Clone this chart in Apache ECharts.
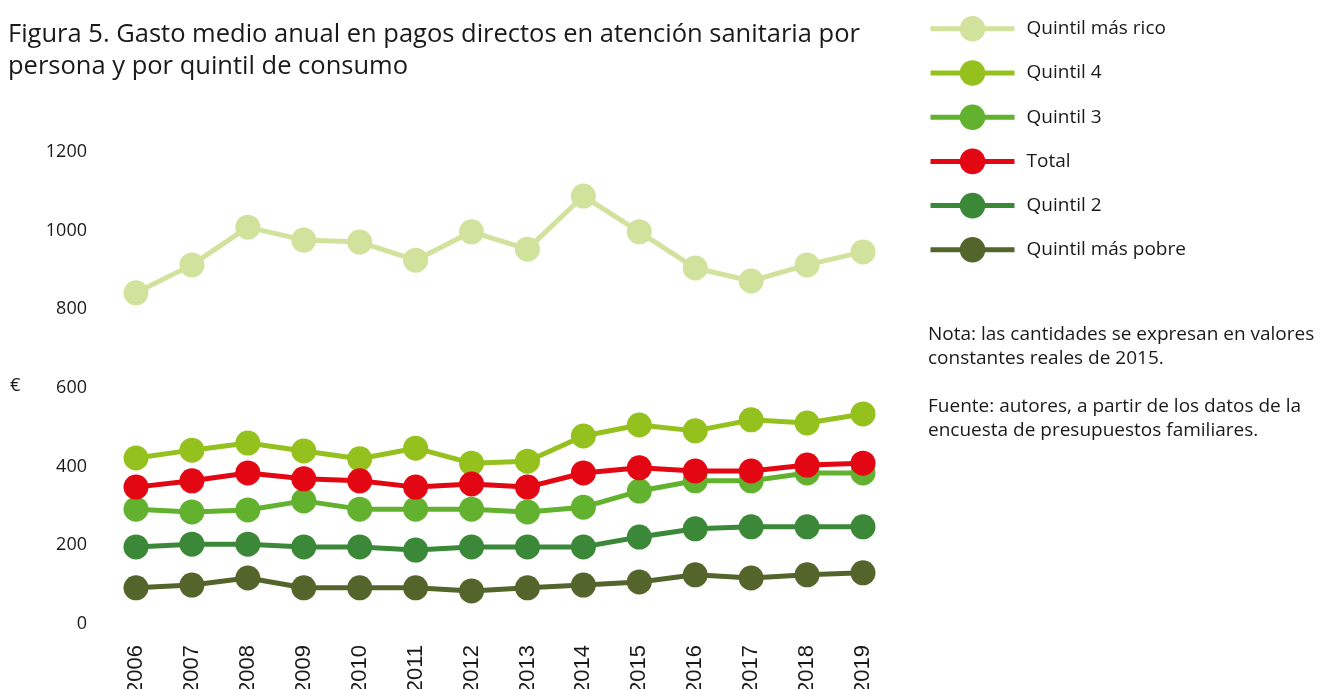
<!DOCTYPE html>
<html>
<head>
<meta charset="utf-8">
<script src="https://cdn.jsdelivr.net/npm/echarts@6/dist/echarts.min.js"></script>
<style>
  html, body { margin: 0; padding: 0; background: #fff; }
  #chart { width: 1322px; height: 689px; }
</style>
</head>
<body>
<div id="chart"></div>
<script>
const years = ['2006', '2007', '2008', '2009', '2010', '2011', '2012', '2013', '2014', '2015', '2016', '2017', '2018', '2019']
const yTicks = [0, 200, 400, 600, 800, 1000, 1200]

const rico = [842, 913, 1009, 976, 971, 925, 997, 953, 1088, 997, 905, 872, 913, 946]
const quintil4 = [422, 442, 460, 440, 420, 447, 409, 414, 478, 506, 491, 519, 511, 534]
const quintil3 = [292, 285, 290, 313, 292, 292, 292, 285, 297, 338, 364, 364, 384, 384]
const total = [348, 364, 384, 369, 364, 348, 356, 348, 384, 397, 389, 389, 404, 409]
const quintil2 = [196, 203, 203, 196, 196, 188, 196, 196, 196, 221, 242, 247, 247, 247]
const pobre = [92, 99, 117, 92, 92, 92, 84, 92, 99, 107, 125, 117, 125, 130]

const legendNames = ['Quintil más rico', 'Quintil 4', 'Quintil 3', 'Total', 'Quintil 2', 'Quintil más pobre']

const chart = echarts.init(document.getElementById('chart'))

const makeLine = (name, data, color) => ({
  name: name,
  type: 'line',
  data: data,
  symbol: 'circle',
  symbolSize: 25,
  showSymbol: true,
  color: color,
  itemStyle: { color: color },
  lineStyle: { color: color, width: 5 },
  emphasis: { disabled: true }
})

const option = {
  animation: false,
  textStyle: { fontFamily: 'Open Sans' },
  title: {
    text: 'Figura 5. Gasto medio anual en pagos directos en atención sanitaria por\npersona y por quintil de consumo',
    left: 3,
    top: 14,
    textStyle: {
      fontFamily: 'Open Sans',
      fontSize: 25.5,
      fontWeight: 'normal',
      color: '#1a1a1a',
      lineHeight: 32
    }
  },
  legend: {
    orient: 'vertical',
    left: 923,
    top: 11,
    itemWidth: 84,
    itemHeight: 32,
    itemGap: 18.6,
    data: legendNames,
    lineStyle: { width: 5 },
    textStyle: { fontFamily: 'Open Sans', fontSize: 19, color: '#1a1a1a', padding: [0, 0, 0, 7] },
    selectedMode: false
  },
  grid: {
    left: 136,
    right: 459,
    top: 152,
    bottom: 65,
    containLabel: false,
    outerBoundsMode: 'none'
  },
  xAxis: {
    type: 'category',
    data: years,
    boundaryGap: false,
    axisLine: { show: false },
    axisTick: { show: false },
    splitLine: { show: false },
    axisLabel: {
      rotate: 90,
      margin: 21,
      fontFamily: 'Liberation Sans',
      fontSize: 22,
      color: '#1a1a1a'
    }
  },
  yAxis: {
    type: 'value',
    min: yTicks[0],
    max: yTicks[yTicks.length - 1],
    interval: 200,
    axisLine: { show: false },
    axisTick: { show: false },
    splitLine: { show: false },
    axisLabel: {
      margin: 49,
      fontFamily: 'Open Sans',
      fontSize: 18,
      color: '#1a1a1a',
      formatter: (v) => String(v)
    }
  },
  graphic: [
    {
      type: 'text',
      left: 10,
      top: 377,
      style: { text: '€', fontFamily: 'Open Sans', fontSize: 18, fill: '#1a1a1a' }
    },
    {
      type: 'text',
      left: 928,
      top: 323,
      style: {
        text: 'Nota: las cantidades se expresan en valores\nconstantes reales de 2015.\n\nFuente: autores, a partir de los datos de la\nencuesta de presupuestos familiares.',
        fontFamily: 'Open Sans',
        fontSize: 19,
        lineHeight: 24,
        fill: '#1a1a1a'
      }
    }
  ],
  series: [
    makeLine('Quintil más rico', rico, '#d1e29c'),
    makeLine('Quintil 4', quintil4, '#95c11f'),
    makeLine('Quintil 3', quintil3, '#63b22f'),
    makeLine('Quintil 2', quintil2, '#3a8838'),
    makeLine('Quintil más pobre', pobre, '#53652b'),
    makeLine('Total', total, '#e30613')
  ]
}

chart.setOption(option)
</script>
</body>
</html>
